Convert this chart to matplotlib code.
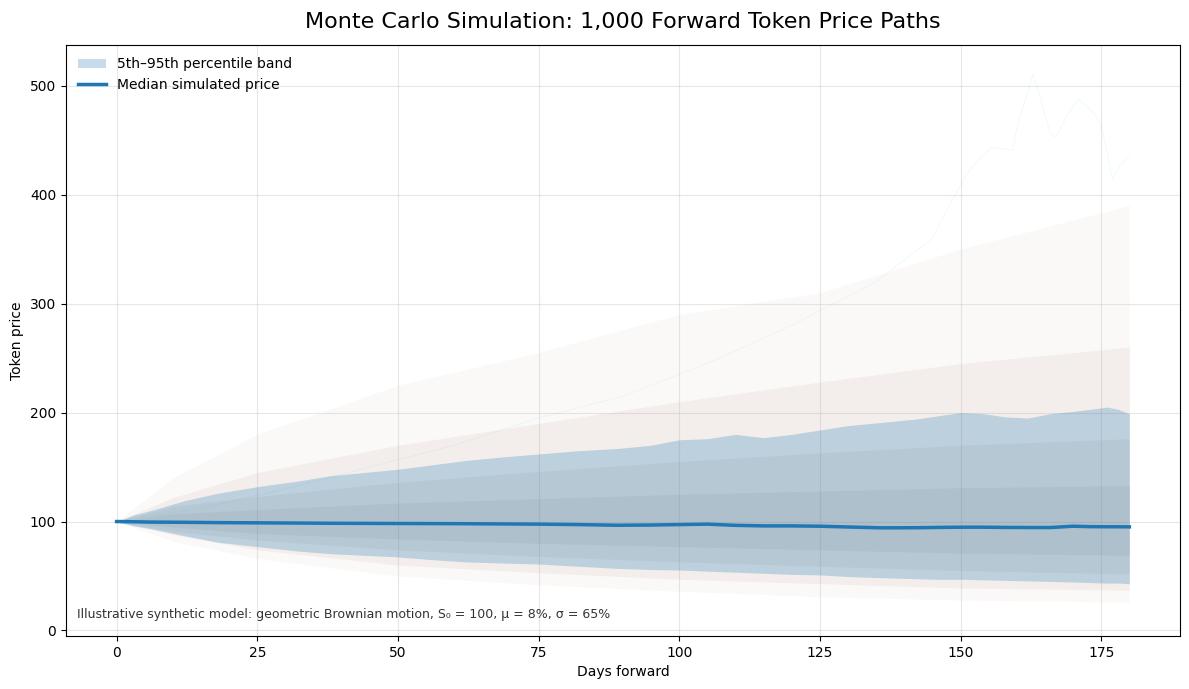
import matplotlib
matplotlib.use("Agg")
import matplotlib.pyplot as plt
from matplotlib.patches import Patch
from matplotlib.lines import Line2D

# ---- data ----
days = [0, 3, 6, 12, 18, 25, 32, 38, 44, 50, 56, 62, 68, 75, 82, 89, 95, 100,
        105, 110, 115, 120, 125, 130, 136, 142, 146, 150, 154, 158, 162, 166,
        170, 173, 176, 178, 180]
p95 = [100, 106, 110, 119, 126, 132, 137, 142, 145, 148, 152, 156, 159, 162,
       165, 167, 170, 175, 176, 180, 177, 180, 184, 188, 191, 194, 197, 200,
       199, 196, 195, 199, 201, 203, 205, 203, 199]
p5 = [100, 96, 93.5, 87, 81, 77, 73, 70.5, 69, 67.5, 65, 63, 62, 61, 59, 57,
      56, 55.5, 54.5, 53.5, 52.5, 51.5, 51, 49.5, 48.5, 47.5, 47, 47, 46.5, 46,
      45.5, 45, 44.5, 44, 43.5, 43.5, 43]
median = [100, 99.8, 99.5, 99.3, 99, 98.8, 98.6, 98.4, 98.3, 98.2, 98.1, 98,
          97.8, 97.6, 97.2, 96.6, 96.8, 97.2, 97.6, 96.5, 96, 96, 95.7, 95,
          94.2, 94.3, 94.6, 94.8, 94.8, 94.6, 94.5, 94.5, 95.7, 95.3, 95.2,
          95.2, 95.1]

# envelopes of the faint simulated paths (estimated density levels)
env_days = [0, 10, 25, 50, 75, 100, 125, 150, 180]
sparse_hi = [100, 140, 180, 225, 255, 290, 310, 350, 390]
sparse_lo = [100, 82, 66, 50, 42, 36, 31, 28, 26]
haze_hi = [100, 122, 145, 170, 190, 210, 228, 245, 260]
haze_lo = [100, 88, 74, 60, 53, 47, 43, 39, 37]
dense_hi = [100, 114, 123, 136, 146, 155, 163, 170, 176]
dense_lo = [100, 91, 83, 74, 68, 63, 59, 55, 52]
core_hi = [100, 107, 111, 117, 121, 125, 128, 131, 133]
core_lo = [100, 95, 89, 84, 80, 77, 74, 71, 69]

# the highest visible path
top_days = [0, 15, 30, 45, 60, 75, 90, 105, 120, 135, 145, 148, 151, 153,
            155.4, 159.3, 160, 162.9, 164, 166, 167, 169, 171, 174, 175, 177,
            178.4, 180]
top_path = [100, 112, 130, 150, 170, 195, 215, 245, 280, 320, 360, 390, 418,
            431, 443, 441, 461, 511, 492, 455, 453, 473, 488, 473, 464, 414,
            427, 435]

title = "Monte Carlo Simulation: 1,000 Forward Token Price Paths"
note = ("Illustrative synthetic model: geometric Brownian motion, "
        "S\u2080 = 100, \u03bc = 8%, \u03c3 = 65%")

# ---- figure ----
fig = plt.figure(figsize=(11.89, 6.89), dpi=100)
ax = fig.add_axes([0.0555, 0.077, 0.9369, 0.858])

ax.fill_between(env_days, sparse_lo, sparse_hi, color="#d9c6be", alpha=0.10,
                linewidth=0, zorder=1)
ax.fill_between(env_days, haze_lo, haze_hi, color="#c9b1a7", alpha=0.15,
                linewidth=0, zorder=1.1)
ax.fill_between(env_days, dense_lo, dense_hi, color="#8a7a72", alpha=0.08,
                linewidth=0, zorder=1.2)
ax.fill_between(env_days, core_lo, core_hi, color="#7a6c65", alpha=0.09,
                linewidth=0, zorder=1.3)
ax.plot(top_days, top_path, color="#17becf", alpha=0.07, linewidth=0.7,
        zorder=1.5)

ax.fill_between(days, p5, p95, color="#1f77b4", alpha=0.25, linewidth=0,
                zorder=2)
ax.plot(days, median, color="#1f77b4", linewidth=2.5, zorder=3)

ax.set_xlim(-9, 189)
ax.set_ylim(-5, 537.5)
ax.set_xticks([0, 25, 50, 75, 100, 125, 150, 175])
ax.set_yticks([0, 100, 200, 300, 400, 500])
ax.grid(True, alpha=0.3)
ax.set_axisbelow(True)

ax.set_title(title, fontsize=16, pad=12)
ax.set_xlabel("Days forward", fontsize=10)
ax.set_ylabel("Token price", fontsize=10)

handles = [Patch(facecolor="#1f77b4", alpha=0.25, edgecolor="none",
                 label="5th\u201395th percentile band"),
           Line2D([0], [0], color="#1f77b4", linewidth=2.5,
                  label="Median simulated price")]
ax.legend(handles=handles, loc="upper left", frameon=False, fontsize=10)

ax.text(0.01, 0.025, note, transform=ax.transAxes, fontsize=9,
        color="#333333", ha="left", va="bottom")

fig.savefig("out.png", dpi=100)
